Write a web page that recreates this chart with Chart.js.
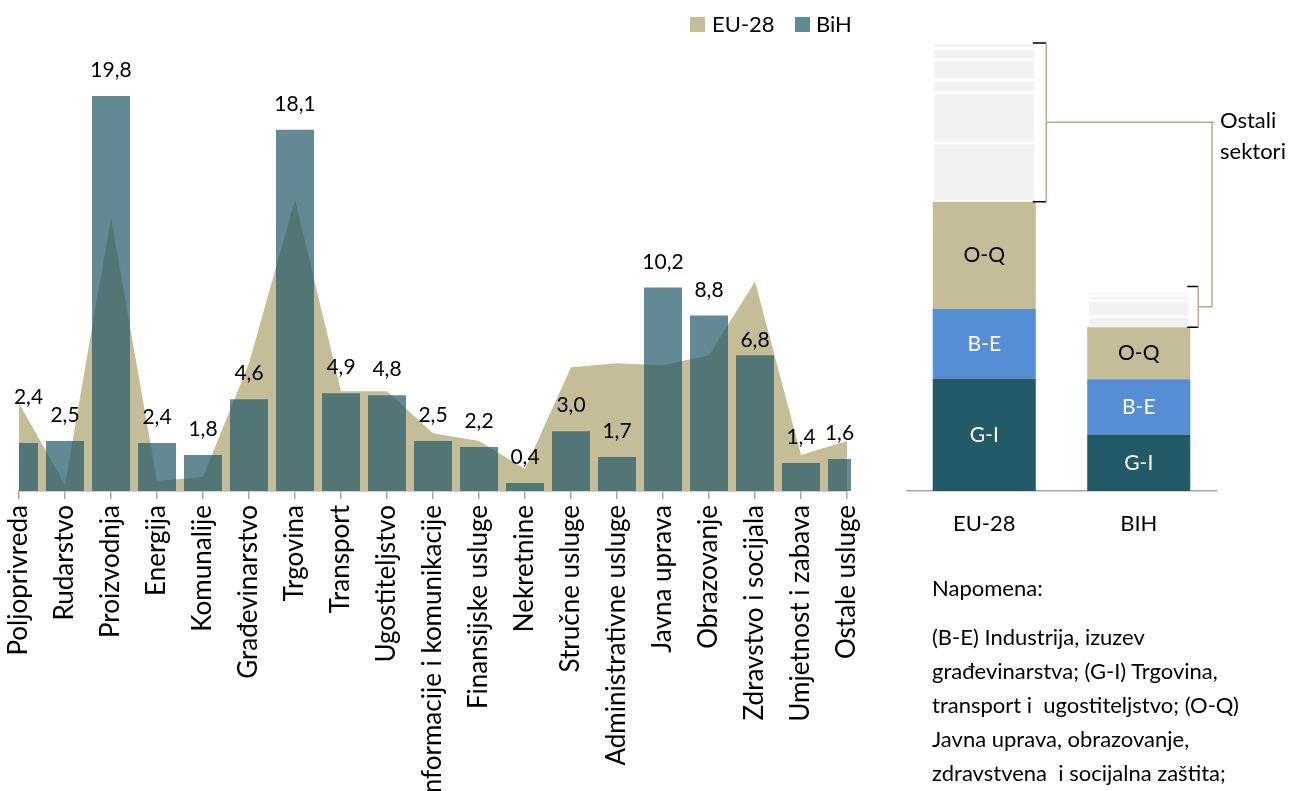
<!DOCTYPE html>
<html><head><meta charset="utf-8">
<script src="https://cdn.jsdelivr.net/npm/chart.js@4"></script>
<style>
html,body{margin:0;padding:0;background:#fff;width:1290px;height:791px;overflow:hidden;font-family:Lato,sans-serif}
#left{position:absolute;left:0;top:0;width:880px;height:791px}
#right{position:absolute;left:880px;top:0;width:410px;height:791px}
.note{position:absolute;left:932px;font-size:22px;line-height:34px;color:#000;white-space:pre}
</style></head><body>
<canvas id="left" width="880" height="791"></canvas>
<canvas id="right" width="410" height="791"></canvas>
<div class="note" style="top:571px">Napomena:</div>
<div class="note" style="top:620px">(B-E) Industrija, izuzev
građevinarstva; (G-I) Trgovina,
transport i  ugostiteljstvo; (O-Q)
Javna uprava, obrazovanje,
zdravstvena  i socijalna zaštita;</div>
<script>
// ---------- Left chart data ----------
const categories = ['Poljoprivreda','Rudarstvo','Proizvodnja','Energija','Komunalije','Građevinarstvo','Trgovina','Transport','Ugostiteljstvo','Informacije i komunikacije','Finansijske usluge','Nekretnine','Stručne usluge','Administrativne usluge','Javna uprava','Obrazovanje','Zdravstvo i socijala','Umjetnost i zabava','Ostale usluge'];
const bihValues = [2.4,2.5,19.8,2.4,1.8,4.6,18.1,4.9,4.8,2.5,2.2,0.4,3.0,1.7,10.2,8.8,6.8,1.4,1.6];
const euValues  = [4.4,0.3,13.7,0.5,0.7,6.4,14.6,5.0,5.0,2.9,2.5,1.1,6.2,6.4,6.3,6.8,10.5,1.8,2.5];
const seriesNames = ['EU-28','BiH'];

// ---------- Right chart data ----------
const groupCategories = ['EU-28','BIH'];
const groupGI = [25.0,12.6];
const groupBE = [15.6,12.3];
const groupOQ = [23.9,11.6];
const other1 = [13.1,2.4];
const other2 = [11.2,3.5];
const other3 = [2.8,1.1];
const other4 = [4.6,1.0];
const other5 = [2.5,0.7];
const other6 = [1.2,0.4];
const groupLabels = ['G-I','B-E','O-Q'];
const otherLabel = ['Ostali','sektori'];

const TAN = '#C4BD97';
const TEAL_A = 'rgba(33,88,102,0.70)';
const FONT = 'Lato';
const labelNudge = {0:-20.5, 16:10.5};
const fmt = v => v.toFixed(1).replace('.', ',');

const leftPlugin = {
  id:'leftDeco',
  afterDatasetsDraw(chart){
    const ctx = chart.ctx, area = chart.chartArea;
    const meta = chart.getDatasetMeta(1);
    ctx.save();
    ctx.font = '21px ' + FONT;
    ctx.fillStyle = '#000';
    ctx.textAlign = 'center';
    ctx.textBaseline = 'middle';
    meta.data.forEach((bar,i)=>{
      const half = bar.width/2;
      const l = Math.max(bar.x-half, area.left), r = Math.min(bar.x+half, area.right+4);
      ctx.fillText(fmt(bihValues[i]), (l+r)/2, bar.y-25.5+(labelNudge[i]||0));
    });
    // legend
    ctx.font = '22px ' + FONT;
    ctx.textAlign = 'left';
    ctx.fillStyle = TAN; ctx.fillRect(690,17,15,15);
    ctx.fillStyle = '#000'; ctx.fillText(seriesNames[0], 712, 25);
    ctx.fillStyle = TEAL_A; ctx.fillRect(795,17,15,15);
    ctx.fillStyle = '#000'; ctx.fillText(seriesNames[1], 816, 25);
    ctx.restore();
  }
};

new Chart(document.getElementById('left'), {
  data:{
    labels: categories,
    datasets:[
      {type:'line', label:seriesNames[0], data:euValues, fill:'origin', backgroundColor:TAN, borderWidth:0, pointRadius:0, tension:0, order:2},
      {type:'bar', label:seriesNames[1], data:bihValues, backgroundColor:TEAL_A, borderWidth:0, barPercentage:0.826, categoryPercentage:1, order:1, clip:{left:0,top:false,right:4,bottom:0}}
    ]
  },
  options:{
    responsive:false, animation:false,
    layout:{padding:{left:19, right:33, top:52, bottom:0}},
    plugins:{legend:{display:false}, tooltip:{enabled:false}},
    scales:{
      x:{
        offset:false,
        grid:{display:true, offset:false, drawOnChartArea:false, drawTicks:true, tickLength:8, color:'#a6a6a6', lineWidth:1.5},
        border:{display:true, color:'#a6a6a6', width:1.5},
        ticks:{autoSkip:false, maxRotation:90, minRotation:90, padding:6, color:'#000', font:{family:FONT, size:26}},
        afterFit(s){ s.height = 300; s.paddingLeft = 0; s.paddingRight = 0; }
      },
      y:{display:false, min:0, max:22}
    }
  },
  plugins:[leftPlugin]
});

// ---------- right chart ----------
const rightPlugin = {
  id:'rightDeco',
  afterDatasetsDraw(chart){
    const ctx = chart.ctx;
    ctx.save();
    ctx.font = '21px ' + FONT;
    ctx.textAlign = 'center'; ctx.textBaseline = 'middle';
    const colors = ['#fff','#fff','#000'];
    for (let d=0; d<3; d++){
      chart.getDatasetMeta(d).data.forEach(bar=>{
        ctx.fillStyle = colors[d];
        ctx.fillText(groupLabels[d], bar.x, (bar.y+bar.base)/2);
      });
    }
    const oq = chart.getDatasetMeta(2).data;
    const top = chart.getDatasetMeta(chart.data.datasets.length-1).data;
    const offs = [10.5, 8];
    const mids = [];
    const LINE = '#B5AD86';
    for (let i=0;i<2;i++){
      const right = top[i].x + top[i].width/2;
      const bx = right + offs[i];
      const yTop = top[i].y, yBot = oq[i].y;
      ctx.strokeStyle = '#000'; ctx.lineWidth = 1.5;
      ctx.beginPath();
      ctx.moveTo(right-3, yTop); ctx.lineTo(bx, yTop);
      ctx.moveTo(right-3, yBot); ctx.lineTo(bx, yBot);
      ctx.stroke();
      ctx.strokeStyle = LINE; ctx.lineWidth = 1.5;
      ctx.beginPath(); ctx.moveTo(bx, yTop); ctx.lineTo(bx, yBot); ctx.stroke();
      mids.push({x:bx, y:(yTop+yBot)/2});
    }
    const cx = 1212-880;
    ctx.strokeStyle = LINE; ctx.lineWidth = 1.5;
    ctx.beginPath();
    ctx.moveTo(mids[0].x, mids[0].y); ctx.lineTo(cx+2, mids[0].y);
    ctx.moveTo(cx, mids[0].y); ctx.lineTo(cx, mids[1].y); ctx.lineTo(mids[1].x, mids[1].y);
    ctx.stroke();
    ctx.font = '22px ' + FONT;
    ctx.fillStyle = '#000'; ctx.textAlign = 'left';
    ctx.fillText(otherLabel[0], cx+8, mids[0].y-1);
    ctx.fillText(otherLabel[1], cx+8, mids[0].y+30);
    ctx.restore();
  }
};

const otherDs = [other1,other2,other3,other4,other5,other6].map(d=>({data:d, backgroundColor:'#F2F2F2', borderColor:'#fff', borderWidth:1.5, borderSkipped:false}));
new Chart(document.getElementById('right'), {
  type:'bar',
  data:{
    labels: groupCategories,
    datasets:[
      {data:groupGI, backgroundColor:'#235A68', borderWidth:0},
      {data:groupBE, backgroundColor:'#558ED5', borderWidth:0},
      {data:groupOQ, backgroundColor:TAN, borderWidth:0},
      ...otherDs
    ].map(d=>Object.assign(d,{barPercentage:0.667, categoryPercentage:1}))
  },
  options:{
    responsive:false, animation:false,
    layout:{padding:{left:27, right:74, top:20, bottom:0}},
    plugins:{legend:{display:false}, tooltip:{enabled:false}},
    scales:{
      x:{
        stacked:true,
        grid:{display:false},
        border:{display:true, color:'#a6a6a6', width:1.5},
        ticks:{padding:12, color:'#000', font:{family:FONT, size:22}},
        afterFit(s){ s.height = 300; }
      },
      y:{stacked:true, display:false, min:0, max:105}
    }
  },
  plugins:[rightPlugin]
});
</script>
</body></html>
